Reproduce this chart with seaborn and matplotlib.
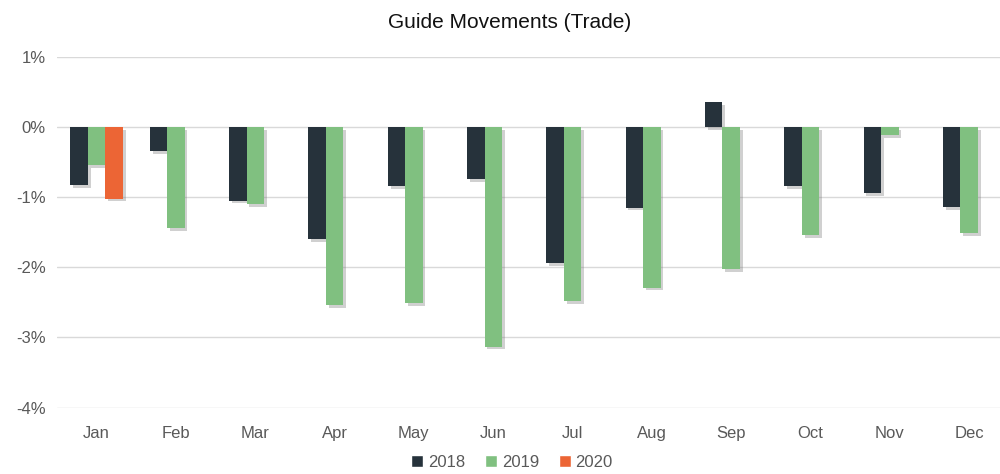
import numpy as np
import pandas as pd
import matplotlib
matplotlib.use("Agg")
import matplotlib.pyplot as plt
import matplotlib.patheffects as pe
from matplotlib.patches import Patch
import seaborn as sns

months = ["Jan", "Feb", "Mar", "Apr", "May", "Jun", "Jul", "Aug", "Sep", "Oct", "Nov", "Dec"]
y2018 = [-0.83, -0.34, -1.05, -1.60, -0.84, -0.74, -1.94, -1.15, 0.36, -0.84, -0.94, -1.14]
y2019 = [-0.54, -1.44, -1.10, -2.54, -2.51, -3.13, -2.48, -2.29, -2.02, -1.54, -0.11, -1.51]
y2020 = [-1.02] + [np.nan] * 11
years = ["2018", "2019", "2020"]
colors = ["#26323b", "#80c080", "#ec6535"]

df = pd.DataFrame({
    "month": months * 3,
    "year": ["2018"] * 12 + ["2019"] * 12 + ["2020"] * 12,
    "value": y2018 + y2019 + y2020,
})

sns.set_style("white")
plt.rcParams['font.family'] = ['Liberation Sans', 'DejaVu Sans']

fig = plt.figure(figsize=(10, 4.74), dpi=100)
ax = fig.add_axes([0.057, 0.14, 0.955, 0.74])

sns.barplot(data=df, x="month", y="value", hue="year", hue_order=years,
            palette=colors, width=0.66, saturation=1, linewidth=0, ax=ax, legend=False)

# soft drop shadow like the original
for p in ax.patches:
    p.set_path_effects([pe.SimplePatchShadow(offset=(2, -2), shadow_rgbFace="#7a7a7a", alpha=0.35),
                        pe.Normal()])

ax.set_ylim(-4, 1)
ax.set_xlim(-0.5, 11.54)
ax.set_yticks([1, 0, -1, -2, -3, -4])
ax.set_yticklabels(["1%", "0%", "-1%", "-2%", "-3%", "-4%"])
ax.yaxis.grid(True, color="#d9d9d9", linewidth=1)
ax.set_axisbelow(True)
for s in ax.spines.values():
    s.set_visible(False)
ax.tick_params(axis="both", length=0, labelsize=12, colors="#595959")
ax.tick_params(axis="x", pad=13)
ax.tick_params(axis="y", pad=8)
ax.set_xlabel("")
ax.set_ylabel("")
fig.text(0.51, 0.953, "Guide Movements (Trade)", fontsize=15, color="#111111",
         ha="center", va="center")

handles = [Patch(facecolor=c, label=y) for c, y in zip(colors, years)]
leg = fig.legend(handles=handles, loc="center", bbox_to_anchor=(0.512, 0.025), ncol=3,
                 frameon=False, fontsize=12, handlelength=0.7, handleheight=0.7,
                 handletextpad=0.3, columnspacing=1.2)
for t in leg.get_texts():
    t.set_color("#595959")

fig.savefig("out.png", dpi=100)
